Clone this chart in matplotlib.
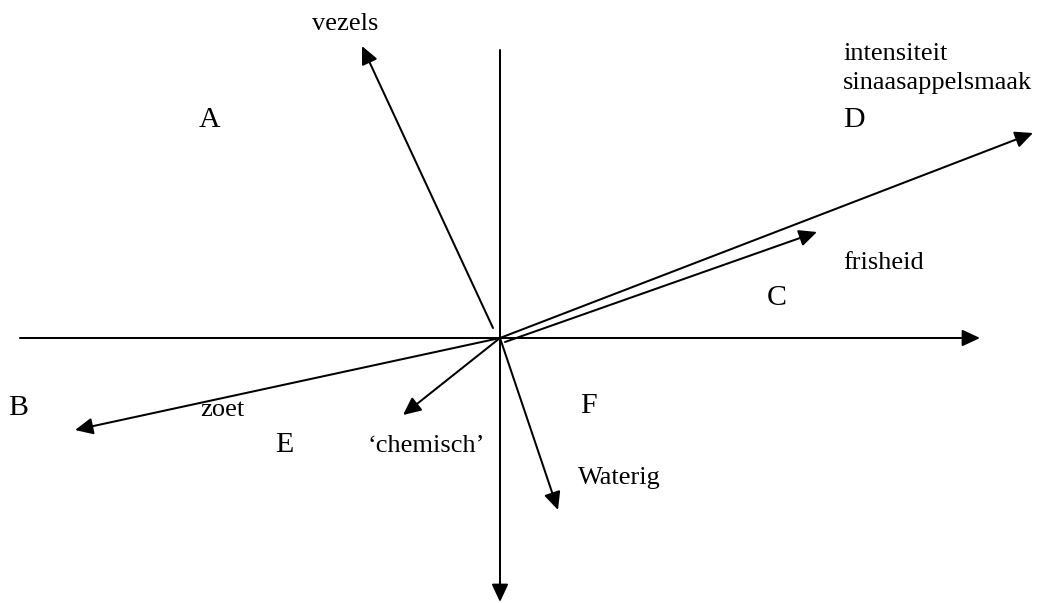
import matplotlib.pyplot as plt

plt.rcParams['font.family'] = ['Liberation Serif', 'DejaVu Serif']

# Axis extents (relative to the origin, y up)
x_axis = [-480, 480]
y_axis = [288, -264]

# Attribute vectors: name, start, tip
vec_names = ["vezels", "intensiteit", "frisheid", "zoet", "chemisch", "waterig"]
vec_start = [(-7, 10), (0, 0), (5, -4), (0, 0), (0, 0), (0, 0)]
vec_tip = [(-138, 292), (533, 205), (317, 106), (-425, -92), (-97, -77), (58, -172)]

# Attribute labels
labels = ["vezels", "intensiteit", "sinaasappelsmaak", "frisheid", "zoet",
          "\u2018chemisch\u2019", "Waterig"]
label_pos = [(-188, 314), (343, 284), (343, 255), (343, 75), (-300, -72),
             (-132, -108), (78, -140)]

# Quadrant / group letters
letters = ["A", "B", "C", "D", "E", "F"]
letter_pos = [(-290, 218), (-482, -70), (277, 40), (354, 218), (-216, -107), (88, -68)]

fig = plt.figure(figsize=(10.38, 6.03), dpi=100)
ax = fig.add_axes([0, 0, 1, 1])
ax.set_xlim(-500, 538)
ax.set_ylim(-265, 338)
ax.axis("off")

arrow_kw = dict(arrowstyle="-|>,head_length=0.6,head_width=0.28", mutation_scale=18,
                color="black", lw=1.45, shrinkA=0, shrinkB=0)

# -- axes --
ax.annotate("", xy=(x_axis[1], 0), xytext=(x_axis[0], 0), arrowprops=arrow_kw)
ax.annotate("", xy=(0, y_axis[1]), xytext=(0, y_axis[0]), arrowprops=arrow_kw)

# -- vectors --
for s, t in zip(vec_start, vec_tip):
    ax.annotate("", xy=t, xytext=s, arrowprops=arrow_kw)

# -- text --
for lab, (x, y) in zip(labels, label_pos):
    ax.text(x, y, lab, fontsize=19, ha="left", va="center")

for let, (x, y) in zip(letters, letter_pos):
    ax.text(x, y, let, fontsize=21.5, ha="center", va="center")

fig.savefig("out.png", dpi=100)
